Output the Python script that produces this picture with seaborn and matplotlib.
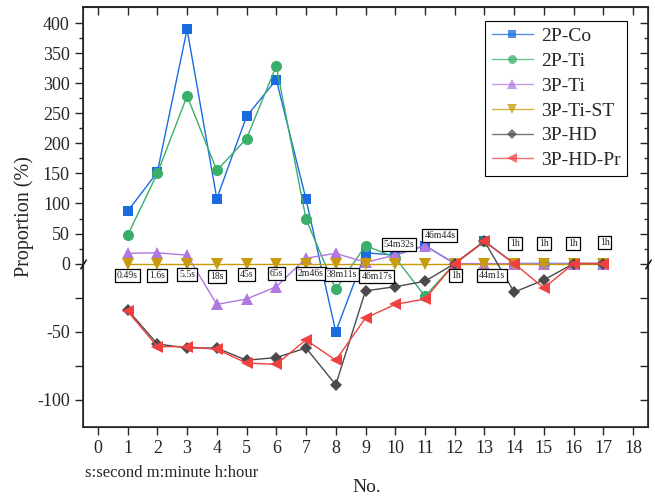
import numpy as np
import seaborn as sns
import matplotlib.pyplot as plt
from matplotlib.ticker import FixedLocator

# data
no = list(range(1, 18))
co_2p = [87, 152, 390, 108, 245, 306, 107, -50, 18, 14, 30, 0, 37, 0, 0, 0, 0]
ti_2p = [47, 150, 279, 155, 208, 329, 74, -19, 30, 10, -24, 0, 37, 0, 0, 0, 0]
ti_3p = [17, 18, 14, -30, -26, -17, 9, 17, 2, 14, 30, 0, 0, 0, 0, 0, 0]
ti_st_3p = [0] * 17
hd_3p = [-34, -59, -62, -62, -71, -69, -62, -89, -20, -17, -13, 0, 37, -21, -12, 0, 0]
hd_pr_3p = [-35, -61, -61, -63, -73, -74, -56, -71, -40, -30, -26, 0, 37, 0, -18, 0, 0]

series = ['2P-Co', '2P-Ti', '3P-Ti', '3P-Ti-ST', '3P-HD', '3P-HD-Pr']
values = [co_2p, ti_2p, ti_3p, ti_st_3p, hd_3p, hd_pr_3p]
colors = ['#1a6be0', '#3aae6b', '#b078e0', '#c99a0a', '#4a4a4a', '#f04040']
markers = ['s', 'o', '^', 'v', 'D', '<']
sizes = [7, 8, 9, 9, 6.5, 9]

# time labels: text, x, y
time_labels = ['0.49s', '1.6s', '5.5s', '18s', '45s', '65s', '2m46s', '38m11s',
               '46m17s', '54m32s', '46m44s', '1h', '44m1s', '1h', '1h', '1h', '1h']
label_x = [1, 2, 3, 4, 5, 6, 7.16, 8.2, 9.38, 10.13, 11.5, 12.03, 13.25, 14.03, 15, 15.97, 17.04]
label_y = [-9, -9, -8, -9.4, -8, -7.5, -7.5, -8, -9.5, 32, 47, -9, -9, 33, 33, 33, 35]

sns.set_style('ticks')
plt.rcParams['font.family'] = ['Liberation Serif', 'DejaVu Serif']

# broken y axis: upper part squeezed
k = 0.6 / 1.36


def fwd(y):
    y = np.asarray(y, dtype=float)
    return np.where(y >= 0, y * k, y)


def inv(v):
    v = np.asarray(v, dtype=float)
    return np.where(v >= 0, v / k, v)


fig = plt.figure(figsize=(6.55, 5.01), dpi=100)
ax = fig.add_axes([83 / 655, 74 / 501, 565 / 655, 420 / 501])

for name, vals, c, m, s in zip(series, values, colors, markers, sizes):
    sns.lineplot(x=no, y=vals, ax=ax, label=name, color=c, marker=m,
                 markersize=s, markeredgewidth=0, linewidth=1)

ax.set_yscale('function', functions=(fwd, inv))
ax.set_ylim(-120, 427)
ax.set_xlim(-0.5, 18.5)

yt = [-100, -75, -50, -25, 0, 50, 100, 150, 200, 250, 300, 350, 400]
ytl = ['-100', '', '-50', '', '0', '50', '100', '150', '200', '250', '300', '350', '400']
ax.yaxis.set_major_locator(FixedLocator(yt))
ax.set_yticklabels(ytl)
ax.yaxis.set_minor_locator(FixedLocator(list(range(25, 400, 50))))
ax.set_xticks(range(0, 19))
ax.tick_params(axis='both', which='major', direction='out', length=6, width=1, labelsize=13)
ax.tick_params(axis='y', which='minor', direction='out', length=3, width=1)
for sp in ax.spines.values():
    sp.set_linewidth(1.2)

# inward ticks on right and top
axr = ax.twinx()
axr.set_yscale('function', functions=(fwd, inv))
axr.set_ylim(ax.get_ylim())
axr.yaxis.set_major_locator(FixedLocator(yt))
axr.yaxis.set_minor_locator(FixedLocator(list(range(25, 400, 50))))
axr.tick_params(axis='y', which='major', direction='in', length=6, width=1, labelright=False)
axr.tick_params(axis='y', which='minor', direction='in', length=3, width=1)
axt = ax.secondary_xaxis('top')
axt.set_xticks(range(0, 19))
axt.tick_params(direction='in', length=6, width=1, labeltop=False)
axt.spines['top'].set_linewidth(1.2)

# break marks at y=0
for xx in [0, 1]:
    ax.plot([xx], [0], marker=[(-1, -1.6), (1, 1.6)], markersize=7, color='k',
            mew=1, transform=ax.get_yaxis_transform(), clip_on=False, zorder=10)

for t, x, y in zip(time_labels, label_x, label_y):
    ax.text(x, y, t, fontsize=7, ha='center', va='center', zorder=12,
            bbox=dict(boxstyle='square,pad=0.2', fc='white', ec='black', lw=0.9))

leg = ax.legend(loc='upper right', bbox_to_anchor=(0.963, 0.967), fontsize=14,
                frameon=True, fancybox=False, edgecolor='black', framealpha=1,
                handlelength=2.1, labelspacing=0.37, borderpad=0.35, handletextpad=0.4,
                borderaxespad=0, markerscale=0.8)
leg.get_frame().set_linewidth(0.8)
for ln in leg.get_lines():
    ln.set_alpha(0.75)

ax.set_ylabel('Proportion (%)', fontsize=14.5, labelpad=2)
ax.set_xlabel('')
fig.text(367 / 655, 1 - 488 / 501, 'No.', fontsize=14, ha='center', va='center')
fig.text(85 / 655, 1 - 473 / 501, 's:second m:minute h:hour', fontsize=12,
         ha='left', va='center')

fig.savefig('out.png', dpi=100)
